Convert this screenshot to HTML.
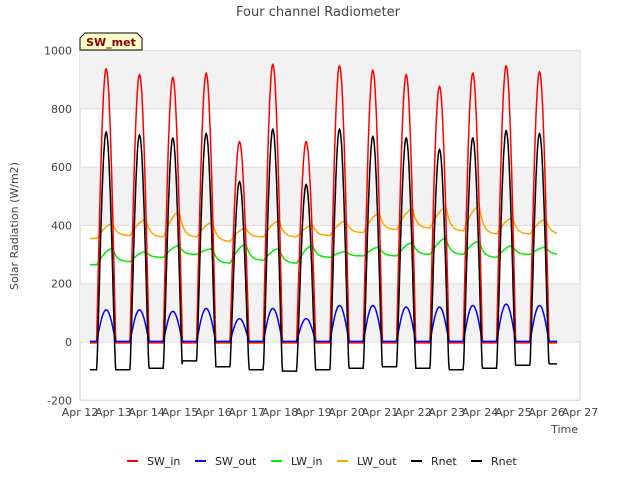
<!DOCTYPE html>
<html><head><meta charset="utf-8"><style>
body{margin:0;background:#fff;font-family:"Liberation Sans","DejaVu Sans",sans-serif}
svg text{font-family:"DejaVu Sans","Liberation Sans",sans-serif}
</style></head><body>
<svg id="c" width="640" height="480" viewBox="0 0 640 480">
<text x="318" y="16" text-anchor="middle" font-size="13" fill="#444">Four channel Radiometer</text>
<text x="18" y="226" text-anchor="middle" font-size="11" fill="#444" transform="rotate(-90 18 226)">Solar Radiation (W/m2)</text>
<text x="578" y="433" text-anchor="end" font-size="11" fill="#444">Time</text>
<g id="bands"></g><g id="grid"></g><g id="ticks"></g><g id="series"></g>
<g>
<path d="M80,50 L80,38 L85,33 L137,33 L142,38 L142,50 Z" fill="#ffffcc" stroke="#000" stroke-width="1"/>
<text x="111" y="46" text-anchor="middle" font-size="11" font-weight="bold" fill="#8b0000">SW_met</text>
</g>
<g id="legend"></g>
</svg>
<script>
const NS="http://www.w3.org/2000/svg";
const yTicks=[-200,0,200,400,600,800,1000];
const xTickLabels=["Apr 12","Apr 13","Apr 14","Apr 15","Apr 16","Apr 17","Apr 18","Apr 19","Apr 20","Apr 21","Apr 22","Apr 23","Apr 24","Apr 25","Apr 26","Apr 27"];
const swInPeak=[940,920,910,925,690,955,690,950,935,920,880,925,950,930];
const rnetPeak=[720,710,700,715,550,730,540,730,705,700,660,700,725,715];
const rnetNight=[-100,-95,-90,-65,-85,-95,-100,-95,-90,-85,-90,-95,-90,-80,-75];
const swOutPeak=[110,110,105,115,80,115,80,125,125,120,120,125,130,125];
const lwInNight=[265,275,290,300,270,280,270,290,295,295,300,300,290,300,300];
const lwInDay=[320,310,330,320,335,320,330,310,325,340,355,345,330,325];
const lwOutNight=[355,365,360,360,345,360,360,365,375,385,390,380,370,370,370];
const lwOutDay=[405,420,445,410,390,415,400,415,440,455,460,465,425,420];
const X0=80,X1=580,Y0=342,YS=0.2915;
const xs=d=>X0+d*(X1-X0)/15, ys=v=>Y0-v*YS;
function el(t,a,p){const e=document.createElementNS(NS,t);for(const k in a)e.setAttribute(k,a[k]);p.appendChild(e);return e;}
const bands=document.getElementById('bands'),grid=document.getElementById('grid'),ticks=document.getElementById('ticks');
el('rect',{x:X0,y:ys(1000),width:X1-X0,height:ys(-200)-ys(1000),fill:'#fff',stroke:'#ccc'},bands);
for(let i=0;i<yTicks.length-1;i++){
 if((yTicks.length-2-i)%2===0){const r=el('rect',{x:X0,y:ys(yTicks[i+1]),width:X1-X0,height:ys(yTicks[i])-ys(yTicks[i+1]),fill:'#f2f2f2'},bands);
 
 }
}
yTicks.forEach(v=>{el('line',{x1:X0,x2:X1,y1:ys(v),y2:ys(v),stroke:'#ddd'},grid);
 const t=el('text',{x:X0-8,y:ys(v)+4,'text-anchor':'end','font-size':11,fill:'#444'},ticks);t.textContent=v;
 
 });
xTickLabels.forEach((s,i)=>{const t=el('text',{x:xs(i),y:416,'text-anchor':'middle','font-size':11,fill:'#444'},ticks);t.textContent=s;
 
 });
const RISE=0.5,LEN=0.57,TP=0.85;
const T=[],S={SW_in:[],SW_out:[],LW_in:[],LW_out:[],Rnet:[]};
function lw(night,day,t){
 let d=Math.floor(t-RISE);let f=t-d-RISE;
 if(d<0){return night[0];}
 const di=Math.min(d,13),n=Math.min(d+1,night.length-1);
 const ph=f/LEN;
 if(ph<TP){return night[Math.min(d,night.length-1)]+(day[di]-night[Math.min(d,night.length-1)])*Math.sin(Math.PI/2*ph/TP);}
 const dt=f-TP*LEN;return night[n]+(day[di]-night[n])*Math.exp(-dt/0.12);
}
for(let t=0.3;t<=14.32;t+=1/72){
 const d=Math.floor(t-RISE+1)-1;const f=t-d;const di=Math.min(Math.max(d,0),13);
 let s=0;const ph=(f-RISE)/LEN;if(ph>0&&ph<1)s=Math.sin(Math.PI*ph);
 const n=Math.min(di+1,14);
 T.push(t);
 S.SW_in.push(s*swInPeak[di]-3);
 S.SW_out.push(s>0.05?s*swOutPeak[di]:2);
 S.Rnet.push(s>0?rnetNight[di]+(rnetPeak[di]-rnetNight[di])*Math.pow(s,1.2):(f<RISE?rnetNight[di]:rnetNight[n]));
 S.LW_in.push(lw(lwInNight,lwInDay,t));
 S.LW_out.push(lw(lwOutNight,lwOutDay,t));
}
const ser=document.getElementById('series');
[['LW_out','#ffa500'],['LW_in','#00ee00'],['SW_in','#ff0000'],['SW_out','#0000ff'],['Rnet','#000000']].forEach(([k,c])=>{
 const p=el('path',{d:S[k].map((v,i)=>(i?'L':'M')+xs(T[i]).toFixed(1)+','+ys(v).toFixed(1)).join(''),fill:'none',stroke:c,'stroke-width':1.5},ser);
 
 
});
const leg=document.getElementById('legend');
[['SW_in','#ff0000',127],['SW_out','#0000ff',195],['LW_in','#00ee00',271],['LW_out','#ffa500',337],['Rnet','#000',411],['Rnet','#000',471]].forEach(([n,c,x])=>{
 const g=el('g',{},leg);
 
 
 el('line',{x1:x,x2:x+11,y1:461,y2:461,stroke:c,'stroke-width':2},g);
 const t=el('text',{x:x+20,y:465,'font-size':11,fill:'#222'},g);t.textContent=n;
});
</script>
</body></html>
